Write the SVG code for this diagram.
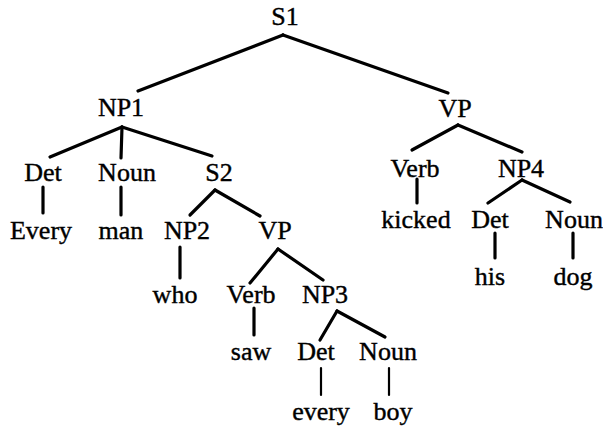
<svg xmlns="http://www.w3.org/2000/svg" width="603" height="431" viewBox="0 0 603 431">
<style>
text{font-family:"Liberation Serif","Times New Roman",serif;font-size:26px;fill:#000;stroke:#000;stroke-width:0.4;text-anchor:middle}
.e line{stroke:#000;stroke-width:3.2;stroke-linecap:round}
.e line.t{stroke-width:2.2}
</style>
<rect width="603" height="431" fill="#fff"/>
<g id="connectors" class="e">
<line x1="283" y1="35" x2="138" y2="91"/>
<line x1="283" y1="35" x2="448" y2="93"/>
<line x1="122" y1="127" x2="50" y2="157"/>
<line x1="122" y1="127" x2="121" y2="158"/>
<line x1="122" y1="127" x2="212" y2="156"/>
<line x1="43" y1="187" x2="43" y2="213"/>
<line x1="121" y1="187" x2="121" y2="215"/>
<line x1="215" y1="190" x2="190" y2="215"/>
<line x1="215" y1="190" x2="260" y2="216"/>
<line x1="180" y1="247" x2="180" y2="278"/>
<line x1="278" y1="249" x2="250" y2="283"/>
<line x1="278" y1="249" x2="323" y2="280"/>
<line x1="254" y1="308" x2="254" y2="335"/>
<line x1="337" y1="311" x2="320" y2="340"/>
<line x1="337" y1="311" x2="385" y2="337"/>
<line class="t" x1="321" y1="368" x2="321" y2="395"/>
<line class="t" x1="389" y1="368" x2="389" y2="395"/>
<line x1="458" y1="125" x2="412" y2="150"/>
<line x1="458" y1="125" x2="522" y2="152"/>
<line x1="417" y1="179" x2="417" y2="203"/>
<line x1="522" y1="180" x2="488" y2="203"/>
<line x1="522" y1="180" x2="570" y2="202"/>
<line x1="495" y1="233" x2="495" y2="258"/>
<line x1="573" y1="233" x2="573" y2="258"/>
</g>
<g id="S1"><text x="285" y="25">S1</text></g>
<g id="NP1"><text x="121" y="116">NP1</text></g>
<g id="VP1"><text x="455" y="117">VP</text></g>
<g id="Det1"><text x="43" y="181">Det</text></g>
<g id="Noun1"><text x="127" y="181">Noun</text></g>
<g id="S2"><text x="219" y="181">S2</text></g>
<g id="Verb1"><text x="415" y="177">Verb</text></g>
<g id="NP4"><text x="521" y="177">NP4</text></g>
<g id="w-Every"><text x="41" y="239">Every</text></g>
<g id="w-man"><text x="121" y="239">man</text></g>
<g id="NP2"><text x="187" y="239">NP2</text></g>
<g id="VP2"><text x="275" y="239">VP</text></g>
<g id="w-kicked"><text x="416" y="228">kicked</text></g>
<g id="Det4"><text x="490" y="228">Det</text></g>
<g id="Noun4"><text x="574" y="228">Noun</text></g>
<g id="w-who"><text x="175" y="303">who</text></g>
<g id="Verb2"><text x="251" y="303">Verb</text></g>
<g id="NP3"><text x="325" y="303">NP3</text></g>
<g id="w-his"><text x="490" y="285">his</text></g>
<g id="w-dog"><text x="573" y="285">dog</text></g>
<g id="w-saw"><text x="251" y="360">saw</text></g>
<g id="Det3"><text x="316" y="360">Det</text></g>
<g id="Noun3"><text x="388" y="360">Noun</text></g>
<g id="w-every"><text x="321" y="420">every</text></g>
<g id="w-boy"><text x="393" y="420">boy</text></g>
</svg>
